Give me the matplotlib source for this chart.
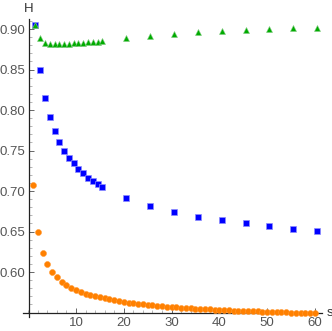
import matplotlib
matplotlib.use("Agg")
import matplotlib.pyplot as plt
from matplotlib.ticker import MultipleLocator, FixedLocator

plt.rcParams['font.family'] = ['Liberation Sans', 'DejaVu Sans']

# ---- data ----
orange_s = list(range(1, 61))
orange_h = [0.708, 0.650, 0.624, 0.610, 0.600, 0.5935, 0.588, 0.584, 0.5806, 0.5778,
            0.5755, 0.5735, 0.5717, 0.5701, 0.5687, 0.5674, 0.5662, 0.5651, 0.5641, 0.5632,
            0.5624, 0.5616, 0.5609, 0.5602, 0.5596, 0.5590, 0.5584, 0.5579, 0.5574, 0.5569,
            0.5565, 0.5561, 0.5557, 0.5553, 0.5549, 0.5546, 0.5542, 0.5539, 0.5536, 0.5533,
            0.5530, 0.5527, 0.5525, 0.5522, 0.5520, 0.5517, 0.5515, 0.5513, 0.5511, 0.5509,
            0.5507, 0.5505, 0.5503, 0.5501, 0.5499, 0.5497, 0.5496, 0.5494, 0.5492, 0.5491]

blue_s = [1.5, 2.5, 3.5, 4.5, 5.5, 6.5, 7.5, 8.5, 9.5, 10.5, 11.5, 12.5, 13.5, 14.5, 15.5,
          20.5, 25.5, 30.5, 35.5, 40.5, 45.5, 50.5, 55.5, 60.4]
blue_h = [0.905, 0.850, 0.815, 0.792, 0.774, 0.761, 0.750, 0.741, 0.734, 0.7275,
          0.722, 0.7165, 0.7123, 0.7086, 0.705,
          0.691, 0.6815, 0.674, 0.668, 0.6638, 0.660, 0.6564, 0.653, 0.6506]

green_s = blue_s
green_h = [0.905, 0.8885, 0.883, 0.8815, 0.881, 0.881, 0.8815, 0.882, 0.8823, 0.8827,
           0.883, 0.8835, 0.884, 0.8844, 0.8848,
           0.8893, 0.8917, 0.8938, 0.8959, 0.8972, 0.8988, 0.8996, 0.9008, 0.9016]

y_ticks = [0.60, 0.65, 0.70, 0.75, 0.80, 0.85, 0.90]
x_ticks = [10, 20, 30, 40, 50, 60]

# ---- figure ----
W, H = 332, 331
fig = plt.figure(figsize=(W / 100, H / 100), dpi=100)
left_px, right_px = 23, 322
top_px, bot_px = 18.5, 317
ax = fig.add_axes([left_px / W, (H - bot_px) / H, (right_px - left_px) / W, (bot_px - top_px) / H])

ax.plot(orange_s, orange_h, 'o', color=(1, 0.5, 0), ms=4.3, mec=(1, 0.6, 0.2), mew=0.4, zorder=3)
ax.plot(blue_s, blue_h, 's', color=(0, 0, 1), ms=4.0, mec=(0.55, 0.55, 1), mew=0.5, zorder=3)
ax.plot(green_s, green_h, '^', color=(0, 0.67, 0), ms=4.6, mec=(0.5, 0.8, 0.5), mew=0.4, zorder=4)

ax.set_xlim(-1.1, 61.5)
ax.set_ylim(0.5445, 0.913)

for sp in ['top', 'right']:
    ax.spines[sp].set_visible(False)
ax.spines['left'].set_position(('data', 0.15))
ax.spines['bottom'].set_position(('data', 0.5494))
for sp in ['left', 'bottom']:
    ax.spines[sp].set_color('#222222')
    ax.spines[sp].set_linewidth(0.9)

ax.yaxis.set_major_locator(FixedLocator(y_ticks))
ax.yaxis.set_minor_locator(MultipleLocator(0.01))
ax.xaxis.set_major_locator(FixedLocator(x_ticks))
ax.xaxis.set_minor_locator(MultipleLocator(2))
ax.set_yticklabels([f"{v:.2f}" for v in y_ticks])
ax.set_xticklabels([str(v) for v in x_ticks])

ax.tick_params(axis='both', which='major', direction='in', length=3.5, width=0.7,
               color='#666666', labelsize=9.5, labelcolor='#555555')
ax.tick_params(axis='both', which='minor', direction='in', length=2, width=0.5, color='#999999')
ax.tick_params(axis='y', pad=2.5)
ax.tick_params(axis='x', pad=3)

ax.text(0.15, 0.925, 'H', ha='center', va='center', fontsize=9.5, color='#333333', clip_on=False,
        transform=ax.transData)
ax.annotate('s', xy=(1.0, 0.5494), xycoords=('axes fraction', 'data'), xytext=(3, 0),
            textcoords='offset points', ha='left', va='center', fontsize=9.5, color='#333333')

fig.savefig('out.png', dpi=100)
